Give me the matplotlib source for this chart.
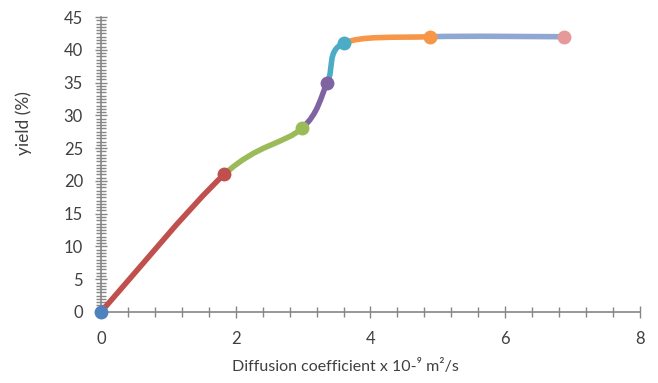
import matplotlib
matplotlib.use("Agg")
import matplotlib.pyplot as plt
from matplotlib.path import Path
from matplotlib.patches import PathPatch
from matplotlib.ticker import MultipleLocator

plt.rcParams['font.family'] = ['Lato', 'DejaVu Sans']

# data
diffusion = [0.0, 1.83, 2.98, 3.36, 3.60, 4.88, 6.88]
yield_pct = [0, 21, 28, 35, 41, 42, 42]
point_colors = ['#4f81bd', '#c0504d', '#9bbb59', '#8064a2', '#4bacc6', '#f79646', '#e6999a']
segment_colors = ['#c0504d', '#9bbb59', '#8064a2', '#4bacc6', '#f79646', '#8ea8d2']

grey = '#868686'
text_col = '#404040'


def smooth_segment(i):
    # Excel-like smoothed line: cubic bezier with Catmull-Rom control points
    n = len(diffusion)
    p0 = max(i - 1, 0)
    p3 = min(i + 2, n - 1)
    x0, y0 = diffusion[p0], yield_pct[p0]
    x1, y1 = diffusion[i], yield_pct[i]
    x2, y2 = diffusion[i + 1], yield_pct[i + 1]
    x3, y3 = diffusion[p3], yield_pct[p3]
    c1 = (x1 + (x2 - x0) / 6, y1 + (y2 - y0) / 6)
    c2 = (x2 - (x3 - x1) / 6, y2 - (y3 - y1) / 6)
    verts = [(x1, y1), c1, c2, (x2, y2)]
    codes = [Path.MOVETO, Path.CURVE4, Path.CURVE4, Path.CURVE4]
    return Path(verts, codes)


fig = plt.figure(figsize=(6.58, 3.83), dpi=100)
ax = fig.add_axes([0.1535, 0.1854, 0.819, 0.770])

for i in range(len(diffusion) - 1):
    patch = PathPatch(smooth_segment(i), facecolor='none', edgecolor=segment_colors[i],
                      lw=4.0, capstyle='round', zorder=3)
    ax.add_patch(patch)

for x, y, c in zip(diffusion, yield_pct, point_colors):
    ax.plot(x, y, 'o', color=c, markersize=10, markeredgewidth=0, zorder=4, clip_on=False)

ax.set_xlim(0, 8)
ax.set_ylim(0, 45)
ax.xaxis.set_major_locator(MultipleLocator(2))
ax.xaxis.set_minor_locator(MultipleLocator(0.4))
ax.yaxis.set_major_locator(MultipleLocator(5))
ax.yaxis.set_minor_locator(MultipleLocator(0.5))

for s in ['top', 'right']:
    ax.spines[s].set_visible(False)
for s in ['left', 'bottom']:
    ax.spines[s].set_color(grey)
    ax.spines[s].set_linewidth(1.2)

ax.tick_params(which='both', direction='inout', color=grey, width=1.0)
ax.tick_params(which='major', length=8, labelsize=12, labelcolor=text_col)
ax.tick_params(which='minor', length=7)
ax.tick_params(axis='y', which='major', pad=9)
ax.tick_params(axis='x', which='major', pad=10)

ax.set_xlabel('Diffusion coefficient x 10-⁹ m²/s', fontsize=11.5, color=text_col)
ax.set_ylabel('yield (%)', fontsize=12.5, color=text_col)
ax.xaxis.set_label_coords(0.453, -0.16)
ax.yaxis.set_label_coords(-0.128, 0.64)

fig.savefig('out.png', dpi=100)
